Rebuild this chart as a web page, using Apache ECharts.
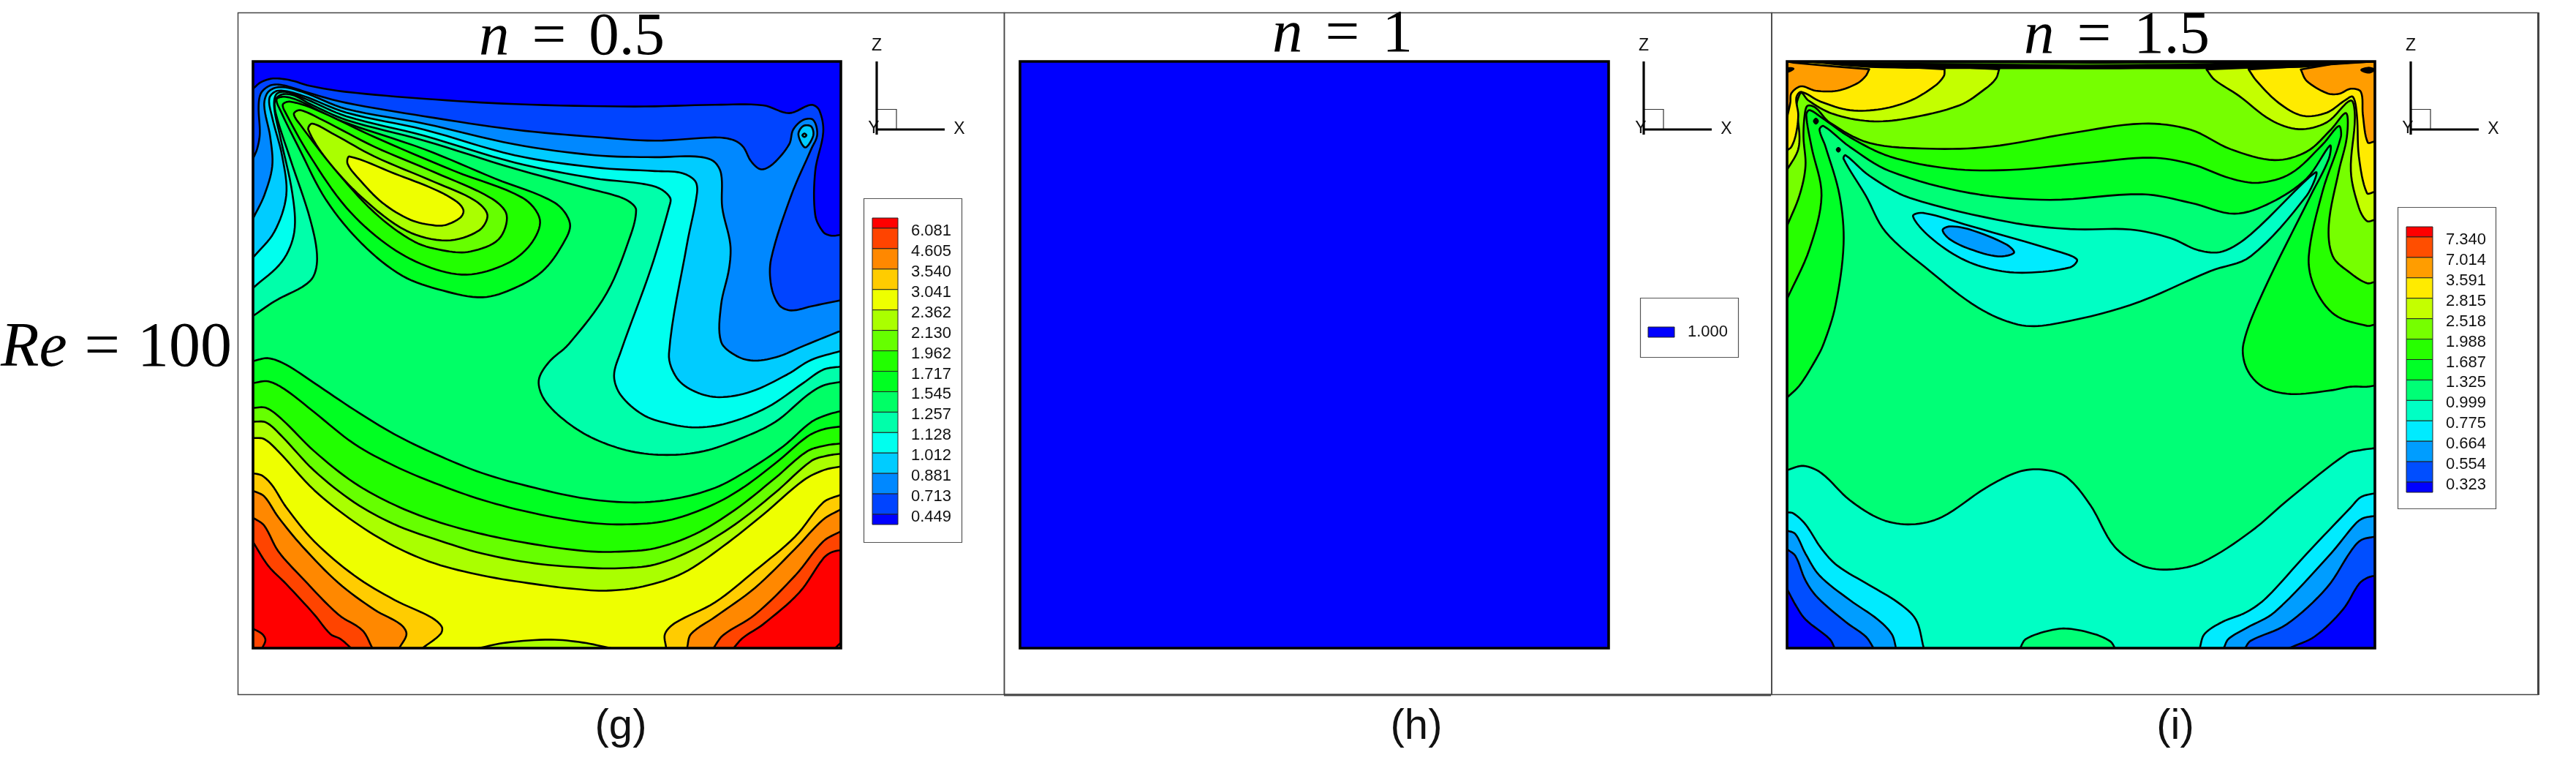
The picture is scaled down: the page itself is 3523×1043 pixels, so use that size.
<!DOCTYPE html>
<html><head><meta charset="utf-8">
<style>html,body{margin:0;padding:0;background:#fff}#c{width:3523px;height:1043px}</style>
<script src="https://cdn.jsdelivr.net/npm/echarts@6/dist/echarts.min.js"></script>
</head><body><div id="c"></div><script>
// Contour levels as printed in each colour key (top to bottom)
const levelsG = ['6.081','4.605','3.540','3.041','2.362','2.130','1.962','1.717','1.545','1.257','1.128','1.012','0.881','0.713','0.449'];
const levelsH = ['1.000'];
const levelsI = ['7.340','7.014','3.591','2.815','2.518','1.988','1.687','1.325','0.999','0.775','0.664','0.554','0.323'];
const colorsG = ['#ff0000','#ff4400','#ff8800','#ffcc00','#eeff00','#aaff00','#66ff00','#22ff00','#00ff22','#00ff66','#00ffaa','#00ffee','#00ccff','#0088ff','#0044ff','#0000ff'];
const colorsH = ['#0000ff'];
const colorsI = ['#ff0000','#ff4e00','#ff9d00','#ffeb00','#c4ff00','#76ff00','#27ff00','#00ff27','#00ff76','#00ffc4','#00ebff','#009dff','#004eff','#0000ff'];

// Contour lines. Units: reading units of the plot (x to the right, z downward).
// Panel (g), n = 0.5
const g_aa=[[47,1295],[100,1235],[190,1150],[207,1060],[190,900],[140,650],[105,470],[102,410],[120,385],[150,390],[190,425],[280,490],[474,575],[700,690],[880,770],[960,805],[990,830],[1003,860],[990,960],[930,1200],[835,1410],[785,1485],[760,1560],[775,1640],[830,1730],[900,1800],[990,1850],[1080,1865],[1170,1850],[1260,1800],[1350,1730],[1430,1620],[1470,1580],[1514,1565]];
const g_ee=[[47,1180],[120,1070],[150,950],[145,790],[115,560],[100,440],[105,385],[130,375],[180,405],[280,475],[474,555],[700,665],[900,730],[1010,750],[1060,770],[1088,810],[1085,850],[1040,1100],[965,1440],[948,1540],[965,1620],[1020,1700],[1080,1735],[1150,1752],[1230,1735],[1330,1670],[1420,1570],[1470,1515],[1514,1502]];
const g_cc=[[47,1055],[100,950],[130,800],[120,640],[95,480],[88,400],[110,370],[170,390],[280,460],[474,530],[700,635],[900,685],[1050,700],[1115,707],[1150,740],[1155,790],[1130,1000],[1085,1450],[1105,1550],[1150,1605],[1210,1628],[1290,1605],[1380,1535],[1440,1475],[1514,1438]];
const g_88=[[47,895],[75,800],[95,680],[90,560],[75,430],[85,375],[115,355],[170,375],[280,445],[474,505],[700,590],[900,635],[1050,643],[1150,640],[1195,658],[1215,710],[1218,850],[1238,1000],[1235,1100],[1215,1250],[1215,1400],[1255,1460],[1300,1478],[1360,1460],[1410,1425],[1514,1355]];
const g_44=[[47,650],[58,605],[64,545],[61,435],[67,380],[88,350],[110,345],[140,355],[188,380],[280,420],[474,475],[700,530],[900,560],[1050,575],[1200,562],[1245,572],[1270,600],[1290,660],[1315,693],[1345,670],[1385,590],[1395,530],[1420,490],[1445,490],[1455,550],[1440,610],[1390,800],[1340,1060],[1340,1170],[1360,1250],[1390,1272],[1440,1255],[1514,1230]];
const g_00=[[47,362],[67,335],[97,320],[140,327],[188,350],[280,375],[474,403],[700,425],[1000,435],[1200,428],[1320,430],[1385,462],[1440,428],[1460,450],[1470,540],[1450,700],[1450,880],[1470,950],[1490,965],[1514,962]];
const g_islandOuter=[[1408,550],[1420,515],[1440,517],[1445,555],[1425,603]];
const g_islandInner=[[1418,553],[1423,546],[1428,553],[1423,560]];
const g_peak1=[[106,405],[125,395],[160,410],[260,490],[474,610],[650,730],[800,830],[838,915],[820,1000],[770,1110],[700,1180],[620,1218],[520,1190],[420,1130],[320,1000],[230,820],[160,600],[115,450]];
const g_peak2=[[122,425],[140,415],[200,445],[350,560],[550,700],[720,810],[763,900],[740,1000],[680,1080],[580,1125],[480,1090],[380,1000],[280,850],[190,640],[125,450]];
const g_peak3=[[149,465],[165,450],[220,490],[350,600],[500,705],[640,810],[680,880],[660,980],[590,1030],[530,1028],[450,990],[350,870],[250,690],[165,510]];
const g_peak4=[[185,530],[195,505],[250,550],[350,640],[500,745],[600,820],[632,880],[610,945],[530,985],[430,945],[320,810],[230,650]];
const g_peak5=[[283,670],[288,640],[400,710],[500,775],[555,825],[572,860],[565,890],[530,920],[500,923],[440,900],[370,830],[310,730]];
const g_low1=[[47,1480],[85,1468],[130,1495],[200,1570],[300,1680],[400,1780],[500,1860],[620,1940],[750,2000],[880,2045],[1000,2060],[1100,2045],[1200,2000],[1280,1930],[1370,1830],[1440,1730],[1480,1700],[1514,1685]];
const g_low2=[[47,1570],[85,1563],[130,1600],[200,1690],[300,1820],[400,1910],[500,1980],[620,2050],[750,2105],[880,2142],[980,2150],[1080,2135],[1180,2080],[1260,2010],[1350,1900],[1430,1790],[1470,1760],[1514,1748]];
const g_low3=[[47,1672],[80,1672],[120,1720],[200,1850],[300,1980],[400,2070],[500,2135],[620,2190],[750,2232],[880,2260],[960,2262],[1050,2248],[1150,2190],[1250,2090],[1350,1960],[1430,1850],[1480,1825],[1514,1818]];
const g_low4=[[47,1728],[80,1732],[120,1790],[200,1930],[300,2060],[400,2150],[500,2210],[620,2270],[750,2310],[880,2328],[960,2330],[1050,2315],[1150,2250],[1250,2150],[1350,2020],[1440,1890],[1480,1868],[1514,1860]];
const g_low5=[[47,1795],[75,1800],[110,1850],[200,2010],[300,2140],[400,2240],[500,2310],[620,2360],[750,2395],[850,2415],[930,2422],[1020,2405],[1120,2350],[1220,2240],[1320,2110],[1420,1970],[1470,1928],[1514,1912]];
const g_bump=[[610,2658],[680,2635],[790,2623],[870,2635],[940,2658]];
const g_lc1=[[47,1940],[70,1950],[95,1990],[130,2080],[200,2220],[300,2360],[400,2460],[490,2530],[518,2570],[515,2600],[470,2658]];
const g_lc2=[[47,2012],[75,2035],[110,2120],[170,2240],[260,2390],[350,2500],[415,2560],[430,2600],[412,2658]];
const g_lc3=[[47,2122],[75,2155],[110,2260],[170,2370],[260,2520],[320,2585],[345,2658]];
const g_lc4=[[47,2222],[85,2320],[130,2395],[200,2520],[240,2600],[265,2620],[292,2658]];
const g_lc5=[[47,2578],[70,2600],[78,2625],[70,2658]];
const g_rc1=[[1078,2658],[1075,2600],[1100,2555],[1200,2470],[1300,2340],[1400,2200],[1470,2060],[1514,2028]];
const g_rc2=[[1130,2658],[1140,2600],[1200,2530],[1300,2410],[1400,2250],[1470,2130],[1514,2088]];
const g_rc3=[[1196,2658],[1220,2605],[1300,2520],[1400,2360],[1470,2220],[1514,2178]];
const g_rc4=[[1246,2658],[1270,2615],[1320,2560],[1410,2430],[1470,2290],[1490,2265],[1514,2255]];
const g_rc5=[[1500,2658],[1514,2635]];

// Panel (i), n = 1.5
const i_a=[[44,1630],[75,1580],[110,1490],[135,1410],[165,1250],[185,1000],[175,800],[140,600],[125,530],[135,515],[200,600],[300,700],[500,790],[700,818],[930,795],[1050,830],[1160,875],[1250,830],[1340,730],[1398,595],[1395,650],[1350,800],[1230,1200],[1182,1410],[1190,1510],[1230,1585],[1300,1615],[1400,1600],[1450,1585],[1490,1585],[1510,1580]];
const i_b=[[44,1225],[100,1020],[130,800],[105,600],[92,470],[100,450],[130,480],[200,560],[300,640],[450,690],[600,695],[800,665],[950,645],[1050,670],[1150,730],[1220,748],[1300,710],[1380,590],[1420,515],[1425,560],[1380,780],[1345,1050],[1360,1180],[1410,1290],[1490,1335],[1510,1330]];
const i_c=[[44,925],[75,800],[90,680],[85,560],[88,470],[95,432],[115,440],[150,500],[250,585],[400,608],[550,600],[750,545],[930,505],[1050,530],[1150,610],[1260,655],[1340,620],[1400,530],[1438,462],[1440,560],[1420,700],[1395,920],[1405,1050],[1450,1120],[1490,1160],[1510,1155]];
const i_d1=[[44,695],[70,620],[75,560],[68,430],[73,395],[80,378],[97,410],[158,465],[249,495],[340,485],[474,430],[540,360],[565,320],[573,282]];
const i_d2=[[1090,283],[1110,325],[1170,390],[1250,490],[1320,528],[1390,500],[1450,410],[1460,480],[1450,700],[1470,850],[1490,905],[1510,900]];
const i_e1=[[44,615],[55,600],[66,550],[72,470],[67,400],[79,375],[128,415],[201,450],[280,445],[353,410],[413,350],[435,310],[437,282]];
const i_e2=[[1195,283],[1215,330],[1270,420],[1330,473],[1390,460],[1435,410],[1455,395],[1465,470],[1470,640],[1490,790],[1510,785]];
const i_f1=[[44,480],[52,420],[55,380],[79,352],[115,370],[170,370],[219,340],[240,310],[249,282]];
const i_f2=[[1325,283],[1340,330],[1390,380],[1420,383],[1450,362],[1475,375],[1480,470],[1492,582],[1510,578]];
const i_strip=[[94,250],[250,272],[500,277],[800,278],[1100,277],[1325,272],[1420,258],[1510,250]];
const i_streak=[[220,254],[500,258],[800,264],[1110,256],[800,258],[500,255]];
const i_island1=[[190,635],[250,720],[350,810],[600,910],[750,938],[900,940],[1000,975],[1070,1025],[1130,1030],[1200,960],[1362,705],[1340,800],[1200,1050],[1100,1110],[900,1250],[700,1330],[620,1330],[520,1260],[400,1110],[290,950],[240,800],[185,650]];
const i_island2=[[358,885],[385,872],[500,925],[720,1030],[767,1063],[750,1095],[640,1117],[560,1105],[480,1060],[400,970]];
const i_island3=[[432,942],[450,927],[500,940],[590,1000],[610,1035],[570,1050],[500,1020],[450,980]];
const i_lower=[[44,1927],[85,1910],[130,1940],[200,2050],[280,2130],[355,2150],[430,2120],[540,2000],[620,1935],[680,1925],[740,1955],[800,2070],[860,2240],[930,2320],[1000,2335],[1080,2305],[1200,2180],[1300,2040],[1440,1860],[1475,1845],[1510,1837]];
const i_bump=[[625,2658],[640,2620],[700,2585],[745,2578],[810,2600],[850,2630],[862,2658]];
const i_lc1=[[44,2100],[60,2105],[90,2150],[130,2250],[170,2320],[250,2400],[320,2470],[365,2540],[385,2658]];
const i_lc2=[[44,2175],[65,2190],[90,2270],[125,2360],[200,2460],[270,2540],[305,2600],[316,2658]];
const i_lc3=[[44,2252],[65,2280],[90,2380],[120,2450],[190,2550],[240,2610],[260,2658]];
const i_lc4=[[44,2415],[65,2480],[90,2540],[150,2620],[163,2658]];
const i_rc1=[[1073,2658],[1085,2600],[1130,2550],[1190,2510],[1240,2450],[1340,2270],[1450,2080],[1475,2038],[1510,2022]];
const i_rc2=[[1133,2658],[1145,2620],[1190,2575],[1260,2510],[1400,2270],[1460,2150],[1480,2125],[1510,2115]];
const i_rc3=[[1186,2658],[1200,2628],[1290,2560],[1390,2410],[1450,2260],[1475,2215],[1510,2200]];
const i_rc4=[[1296,2658],[1360,2610],[1430,2500],[1470,2395],[1490,2370],[1510,2360]];
const i_dot1=[[111,495],[116,485],[121,495],[116,505]];
const i_dot2=[[168,612],[172,605],[176,612],[172,620]];
const i_blob1=[[46,278],[60,280],[46,292]];
const i_blob2=[[1476,285],[1495,276],[1508,284],[1495,296]];

// Plot extents in reading units
const xG=[47,1514], xI=[44,1510], zR=[250,2658], xH=[0,1], zH=[0,1];
const hField=[[0,0],[1,0],[1,1],[0,1]];

const [gL,gR]=xG,[zT,zB]=zR,[iL,iR]=xI;
const gTop=[[gR,zT],[gL,zT]], gBot=[[gR,zB],[gL,zB]], gBL=[[gL,zB]], gBR=[[gR,zB]];
const iTop=[[iR,zT],[iL,zT]], iBot=[[iR,zB],[iL,zB]], iBL=[[iL,zB]], iBR=[[iR,zB]];
const C=colorsG, D=colorsI;
const regionsG=[
 {c:C[9],line:[[gL,zT],[gR,zT],[gR,zB],[gL,zB]],close:[],ns:1,raw:1},
 {c:C[10],line:g_aa,close:gTop},{c:C[11],line:g_ee,close:gTop},{c:C[12],line:g_cc,close:gTop},
 {c:C[13],line:g_88,close:gTop},{c:C[14],line:g_44,close:gTop},{c:C[15],line:g_00,close:gTop},
 {c:C[12],line:g_islandOuter,loop:1},{c:C[11],line:g_islandInner,loop:1},
 {c:C[8],line:g_peak1,loop:1},{c:C[7],line:g_peak2,loop:1},{c:C[6],line:g_peak3,loop:1},{c:C[5],line:g_peak4,loop:1},{c:C[4],line:g_peak5,loop:1},
 {c:C[8],line:g_low1,close:gBot},{c:C[7],line:g_low2,close:gBot},{c:C[6],line:g_low3,close:gBot},{c:C[5],line:g_low4,close:gBot},{c:C[4],line:g_low5,close:gBot},
 {c:C[5],line:g_bump,close:[]},
 {c:C[3],line:g_lc1,close:gBL},{c:C[2],line:g_lc2,close:gBL},{c:C[1],line:g_lc3,close:gBL},{c:C[0],line:g_lc4,close:gBL},{c:C[1],line:g_lc5,close:gBL},
 {c:C[3],line:g_rc1,close:gBR},{c:C[2],line:g_rc2,close:gBR},{c:C[1],line:g_rc3,close:gBR},{c:C[0],line:g_rc4,close:gBR},{c:C[1],line:g_rc5,close:gBR}
];
const regionsH=[{c:colorsH[0],line:hField,close:[],ns:1,raw:1}];
const regionsI=[
 {c:D[8],line:[[iL,zT],[iR,zT],[iR,zB],[iL,zB]],close:[],ns:1,raw:1},
 {c:D[7],line:i_a,close:iTop},{c:D[6],line:i_b,close:iTop},{c:D[5],line:i_c,close:iTop},
 {c:D[4],line:i_d1,close:[[400,268],[200,255],[iL,zT]]},{c:D[4],line:i_d2,close:[[iR,zT],[1400,262]]},
 {c:D[3],line:i_e1,close:[[250,265],[100,252],[iL,zT]]},{c:D[3],line:i_e2,close:[[iR,zT],[1400,262]]},
 {c:D[2],line:i_f1,close:[[158,270],[60,255],[iL,zT]]},{c:D[2],line:i_f2,close:[[iR,zT],[1400,262]]},
 {c:'#000000',line:i_strip,close:[],ns:0},{c:'#2f7a00',line:i_streak,loop:1,ns:1},
 {c:D[9],line:i_island1,loop:1},{c:D[10],line:i_island2,loop:1},{c:D[11],line:i_island3,loop:1},
 {c:D[9],line:i_lower,close:iBot},{c:D[8],line:i_bump,close:[]},
 {c:D[10],line:i_lc1,close:iBL},{c:D[11],line:i_lc2,close:iBL},{c:D[12],line:i_lc3,close:iBL},{c:D[13],line:i_lc4,close:iBL},
 {c:D[10],line:i_rc1,close:iBR},{c:D[11],line:i_rc2,close:iBR},{c:D[12],line:i_rc3,close:iBR},{c:D[13],line:i_rc4,close:iBR},
 {c:'#000000',line:i_dot1,loop:1},{c:'#000000',line:i_dot2,loop:1},{c:'#000000',line:i_blob1,loop:1},{c:'#000000',line:i_blob2,loop:1}
];

// Rendering helper: a Hermite curve through the read points, in pixel space, with tangents weighted by chord length
function curve(p,closed){
  const n=p.length,out=[];
  if(n<3) return p.slice();
  const at=i=>closed?p[(i+n)%n]:p[Math.max(0,Math.min(n-1,i))];
  const dist=(a,b)=>Math.hypot(a[0]-b[0],a[1]-b[1]);
  const tan=(a,b,c,len)=>{const s=dist(a,b)+dist(b,c)||1;return [0,1].map(j=>(c[j]-a[j])*len/s);};
  const last=closed?n:n-1;
  for(let i=0;i<last;i++){
    const a=at(i-1),b=at(i),c=at(i+1),d=at(i+2),len=dist(b,c);
    const m0=tan(a,b,c,len),m1=tan(b,c,d,len);
    for(let k=0;k<8;k++){
      const t=k/8,t2=t*t,t3=t2*t;
      out.push([0,1].map(j=>(2*t3-3*t2+1)*b[j]+(t3-2*t2+t)*m0[j]+(-2*t3+3*t2)*c[j]+(t3-t2)*m1[j]));
    }
  }
  if(!closed) out.push(p[n-1]);
  return out;
}
function contourSeries(regions,idx){
  return {type:'custom',coordinateSystem:'cartesian2d',xAxisIndex:idx,yAxisIndex:idx,clip:true,silent:true,animation:false,z:2,
    data:regions.map((r,i)=>[i]),encode:{x:[],y:[]},
    renderItem(params,api){
      const r=regions[params.dataIndex];
      const px=r.line.map(q=>api.coord(q));
      let pts;
      if(r.raw) pts=px;
      else if(r.loop) pts=curve(px,true);
      else pts=curve(px,false).concat((r.close||[]).map(q=>api.coord(q)));
      return {type:'polygon',shape:{points:pts},style:{fill:r.c,stroke:r.ns?null:'#000',lineWidth:r.ns?0:2.6,lineJoin:'round'}};
    }};
}
function keySeries(colors,n,idx){
  return {type:'custom',coordinateSystem:'cartesian2d',xAxisIndex:idx,yAxisIndex:idx,silent:true,animation:false,z:2,
    data:colors.map((c,i)=>[i]),encode:{x:[],y:[]},
    renderItem(params,api){
      const j=params.dataIndex, s=api.size([0,1])[1];
      const l=api.coord([0,0])[0], r=api.coord([1,0])[0];
      let top,bot;
      if(colors.length===1){const y=api.coord([0,0])[1];top=y-s/2;bot=y+s/2;}
      else{
        top=j===0?api.coord([0,0])[1]-s/2:api.coord([0,j-1])[1];
        bot=j===colors.length-1?api.coord([0,n-1])[1]+s/2:api.coord([0,j])[1];
      }
      return {type:'rect',shape:{x:l,y:top,width:r-l,height:bot-top},style:{fill:colors[j],stroke:'#222',lineWidth:1}};
    }};
}

// Layout
const plots=[{l:346,t:84,w:804,h:802},{l:1395,t:84,w:805,h:802},{l:2444,t:84,w:804,h:802}];
const keys=[{l:1193,t:298,w:35,h:419},{l:2254,t:447,w:36,h:14},{l:3291,t:310,w:36,h:363}];
const grids=plots.map(p=>({left:p.l,top:p.t,width:p.w,height:p.h})).concat(keys.map(k=>({left:k.l,top:k.t,width:k.w,height:k.h})));
const hidden={show:false};
const xAxes=[xG,xH,xI].map((r,i)=>({type:'value',gridIndex:i,min:r[0],max:r[1],show:false}));
const yAxes=[zR,zH,zR].map((r,i)=>({type:'value',gridIndex:i,min:r[0],max:r[1],inverse:true,show:false}));
[levelsG,levelsH,levelsI].forEach((lv,i)=>{
  xAxes.push({type:'value',gridIndex:3+i,min:0,max:1,show:false});
  yAxes.push({type:'category',gridIndex:3+i,data:lv,inverse:true,position:'right',
    axisLine:hidden,axisTick:hidden,splitLine:hidden,
    axisLabel:{show:true,interval:0,margin:18,align:'left',color:'#111',fontFamily:'Liberation Sans',fontSize:22,
      verticalAlign:i===1?'middle':'top',lineHeight:i===1?22:8}});
});

const serif='Liberation Serif';
function mathText(cx,cy,text,size,gap){
  return {type:'text',z:20,style:{x:cx,y:cy,text,align:'center',verticalAlign:'middle',fill:'#000',font:size+'px "'+serif+'"',
    rich:{i:{fontStyle:'italic',fontFamily:serif,fontSize:size,fill:'#000'},r:{fontFamily:serif,fontSize:size,fill:'#000'},
      e:{fontFamily:serif,fontSize:size,fill:'#000'},s:{width:gap,fontSize:size}}}};
}
function boxEl(x,y,w,h,stroke,lw,z){return {type:'rect',z:z||1,shape:{x,y,width:w,height:h},style:{fill:'none',stroke,lineWidth:lw}};}
function lineEl(x1,y1,x2,y2,lw,stroke){return {type:'line',z:12,shape:{x1,y1,x2,y2},style:{stroke:stroke||'#000',lineWidth:lw}};}
function plain(x,y,text,size){return {type:'text',z:11,style:{x,y,text,align:'center',verticalAlign:'middle',fill:'#111',font:size+'px "Liberation Sans"'}};}
function triad(x0){
  return [plain(x0-4,176,'Y',23),lineEl(x0,84,x0,184,3.2),lineEl(x0,177,x0+93,177,3.2),
    boxEl(x0,149.5,27,27.5,'#333',1.2,11),plain(x0,63,'Z',23),plain(x0+113,177,'X',23)];
}
const graphic=[
  boxEl(325.5,17.5,1048,932,'#444',1.5),
  boxEl(1373.5,17.5,1049.5,932,'#444',1.5),
  boxEl(2423,17.5,1048,932,'#444',1.5),
  lineEl(1373,950,2422,950,3,'#444'),
  lineEl(3471.5,17,3471.5,950,3,'#444'),
  boxEl(1181.5,271.5,134,470,'#555',1.2),
  boxEl(2243.5,407.5,134,81,'#555',1.2),
  boxEl(3279.5,283.5,134,412,'#555',1.2),
  ...plots.map(p=>boxEl(p.l,p.t,p.w,p.h,'#000',3.6,30)),
  ...triad(1199),...triad(2248),...triad(3297),
  mathText(782,52,'{i|n}{s| }{e|=}{s| }{r|0.5}',83,31),
  mathText(1836,48,'{i|n}{s| }{e|=}{s| }{r|1}',83,31),
  mathText(2895,50,'{i|n}{s| }{e|=}{s| }{r|1.5}',83,31),
  mathText(159,477,'{i|Re}{s| }{e|=}{s| }{r|100}',86,24),
  plain(849,994,'(g)',58),plain(1937,994,'(h)',58),plain(2975,994,'(i)',58)
];

const chart=echarts.init(document.getElementById('c'),null,{renderer:'canvas'});
chart.setOption({animation:false,backgroundColor:'#fff',grid:grids,xAxis:xAxes,yAxis:yAxes,graphic,
  series:[contourSeries(regionsG,0),contourSeries(regionsH,1),contourSeries(regionsI,2),
    keySeries(colorsG,levelsG.length,3),keySeries(colorsH,levelsH.length,4),keySeries(colorsI,levelsI.length,5)]});
</script></body></html>
